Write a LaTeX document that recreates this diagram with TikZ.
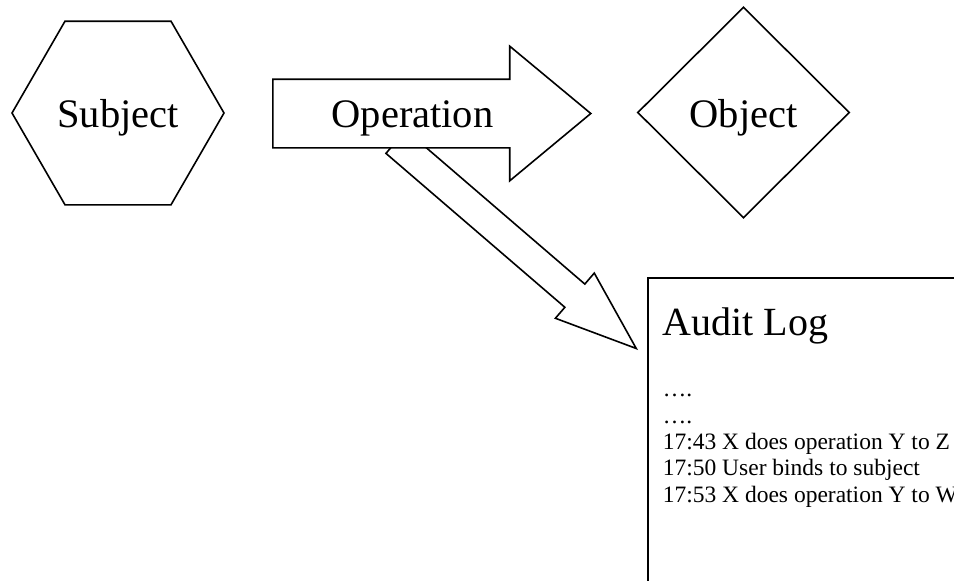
\documentclass[tikz,border=0pt]{standalone}
\usepackage{fontspec}
\setmainfont{Liberation Serif}
\usetikzlibrary{shapes.geometric,shapes.arrows}

\begin{document}
\begin{tikzpicture}[x=1pt, y=-1pt, line width=1.6pt,
  big/.style = {font=\fontsize{40.5}{44}\selectfont, text height=37pt, text depth=8pt, inner sep=0pt},
  hexa/.style = {draw, regular polygon, regular polygon sides=6, minimum size=212pt, big},
  diam/.style = {draw, diamond, minimum width=212pt, minimum height=211pt, big},
  blockarrow/.style = {draw, fill=white, single arrow, inner xsep=0pt, single arrow head indent=0pt},
  logline/.style = {font=\fontsize{23.5}{26}\selectfont, anchor=base west, inner sep=0pt}]

  \useasboundingbox (0,0) rectangle (954,581);
  \clip (0,0) rectangle (954,581);

  \node[hexa] (subject) at (118,113) {Subject};
  \node[diam] (object) at (743.5,112.5) {Object};

  % log box, cut off by the page edge
  \node[draw, anchor=north west, minimum width=340pt, minimum height=330pt, inner sep=0pt] (log) at (647,277) {};
  \node[logline, font=\fontsize{40}{44}\selectfont] (title) at (662,335) {Audit Log};
  \node[logline] (dots1) at (662,396) {….};
  \node[logline] (dots2) at (662,423) {….};
  \node[logline] (entry1) at (662,449) {17:43 X does operation Y to Z};
  \node[logline] (entry2) at (662,475) {17:50 User binds to subject};
  \node[logline] (entry3) at (662,502) {17:53 X does operation Y to W};

  % arrow down to the log goes under the operation arrow
  \node[blockarrow, rotate=-40.7, anchor=tip, inner ysep=14.5pt, single arrow head extend=14.5pt,
        single arrow tip angle=40.4, minimum height=317pt] (logarrow) at (638,350) {};
  \node[blockarrow, anchor=tail, inner ysep=33.5pt, single arrow head extend=33pt,
        single arrow tip angle=79.4, minimum height=318pt] (operation) at (272,113.5) {};
  \node[big] (optext) at (412.5,113) {Operation};

\end{tikzpicture}
\end{document}
